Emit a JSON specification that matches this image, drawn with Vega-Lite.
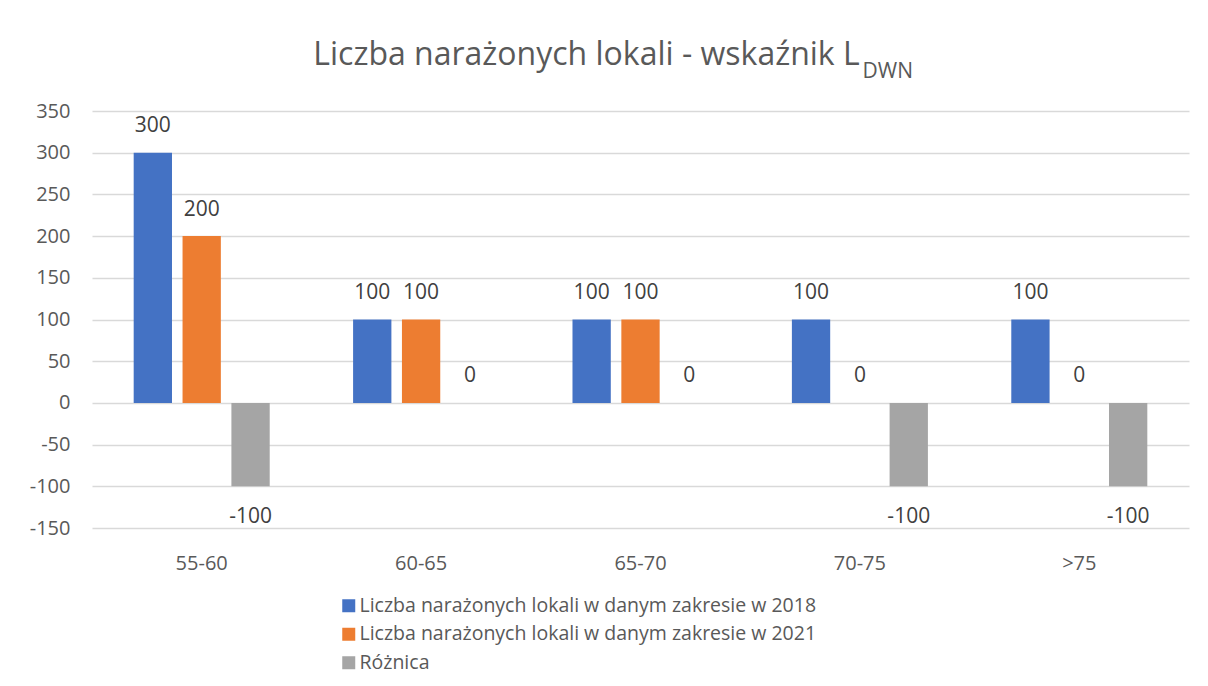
{
  "$schema": "https://vega.github.io/schema/vega-lite/v6.json",
  "width": 1097,
  "height": 417,
  "autosize": {"type": "none"},
  "padding": {"left": 92, "top": 111, "right": 19, "bottom": 158},
  "background": "white",
  "config": {
    "font": "Open Sans",
    "view": {"stroke": null},
    "axis": {"labelFont": "Open Sans", "labelColor": "#595959", "labelFontSize": 20}
  },
  "title": {
    "text": "Liczba narażonych lokali - wskaźnik L\u2003\u2002\u2009\u2060",
    "subtitle": "DWN",
    "anchor": "start",
    "frame": "group",
    "align": "right",
    "dx": 821,
    "font": "Open Sans",
    "subtitleFont": "Open Sans",
    "fontSize": 32,
    "subtitleFontSize": 21,
    "fontWeight": "normal",
    "color": "#595959",
    "subtitleColor": "#595959",
    "offset": 18,
    "subtitlePadding": -11
  },
  "data": {
    "values": [
      {"zakres": "55-60", "seria": "Liczba narażonych lokali w danym zakresie w 2018", "wartosc": 300},
      {"zakres": "55-60", "seria": "Liczba narażonych lokali w danym zakresie w 2021", "wartosc": 200},
      {"zakres": "55-60", "seria": "Różnica", "wartosc": -100},
      {"zakres": "60-65", "seria": "Liczba narażonych lokali w danym zakresie w 2018", "wartosc": 100},
      {"zakres": "60-65", "seria": "Liczba narażonych lokali w danym zakresie w 2021", "wartosc": 100},
      {"zakres": "60-65", "seria": "Różnica", "wartosc": 0},
      {"zakres": "65-70", "seria": "Liczba narażonych lokali w danym zakresie w 2018", "wartosc": 100},
      {"zakres": "65-70", "seria": "Liczba narażonych lokali w danym zakresie w 2021", "wartosc": 100},
      {"zakres": "65-70", "seria": "Różnica", "wartosc": 0},
      {"zakres": "70-75", "seria": "Liczba narażonych lokali w danym zakresie w 2018", "wartosc": 100},
      {"zakres": "70-75", "seria": "Liczba narażonych lokali w danym zakresie w 2021", "wartosc": 0},
      {"zakres": "70-75", "seria": "Różnica", "wartosc": -100},
      {"zakres": ">75", "seria": "Liczba narażonych lokali w danym zakresie w 2018", "wartosc": 100},
      {"zakres": ">75", "seria": "Liczba narażonych lokali w danym zakresie w 2021", "wartosc": 0},
      {"zakres": ">75", "seria": "Różnica", "wartosc": -100}
    ]
  },
  "encoding": {
    "x": {
      "field": "zakres",
      "type": "nominal",
      "sort": ["55-60", "60-65", "65-70", "70-75", ">75"],
      "scale": {"paddingInner": 0.38, "paddingOuter": 0.19},
      "axis": {"title": null, "domain": false, "ticks": false, "labelAngle": 0, "labelPadding": 25}
    },
    "xOffset": {
      "field": "seria",
      "type": "nominal",
      "sort": ["Liczba narażonych lokali w danym zakresie w 2018", "Liczba narażonych lokali w danym zakresie w 2021", "Różnica"],
      "scale": {"paddingInner": 0.216, "paddingOuter": 0}
    },
    "y": {
      "field": "wartosc",
      "type": "quantitative",
      "scale": {"domain": [-150, 350], "nice": false, "zero": false},
      "axis": {
        "title": null,
        "domain": false,
        "ticks": false,
        "values": [-150, -100, -50, 0, 50, 100, 150, 200, 250, 300, 350],
        "labelExpr": "replace(datum.label, '\u2212', '-')",
        "gridColor": "#D9D9D9",
        "gridWidth": 1.3,
        "labelPadding": 22
      }
    }
  },
  "layer": [
    {
      "mark": {"type": "bar"},
      "encoding": {
        "color": {
          "field": "seria",
          "type": "nominal",
          "scale": {
            "domain": ["Liczba narażonych lokali w danym zakresie w 2018", "Liczba narażonych lokali w danym zakresie w 2021", "Różnica"],
            "range": ["#4472C4", "#ED7D31", "#A5A5A5"]
          },
          "legend": {
            "title": null,
            "orient": "none",
            "legendX": 247,
            "legendY": 485,
            "direction": "vertical",
            "symbolType": "square",
            "symbolSize": 169,
            "symbolStrokeWidth": 0,
            "labelFont": "Open Sans",
            "labelFontSize": 19.5,
            "labelColor": "#595959",
            "labelLimit": 800,
            "labelOffset": 1,
            "rowPadding": 7.5
          }
        }
      }
    },
    {
      "transform": [{"filter": "datum.wartosc >= 0"}],
      "mark": {"type": "text", "fontSize": 21, "color": "#404040", "baseline": "middle", "dy": -26.5},
      "encoding": {"text": {"field": "wartosc", "type": "nominal"}}
    },
    {
      "transform": [{"filter": "datum.wartosc < 0"}],
      "mark": {"type": "text", "fontSize": 21, "color": "#404040", "baseline": "middle", "dy": 30.5},
      "encoding": {"text": {"field": "wartosc", "type": "nominal"}}
    }
  ]
}
